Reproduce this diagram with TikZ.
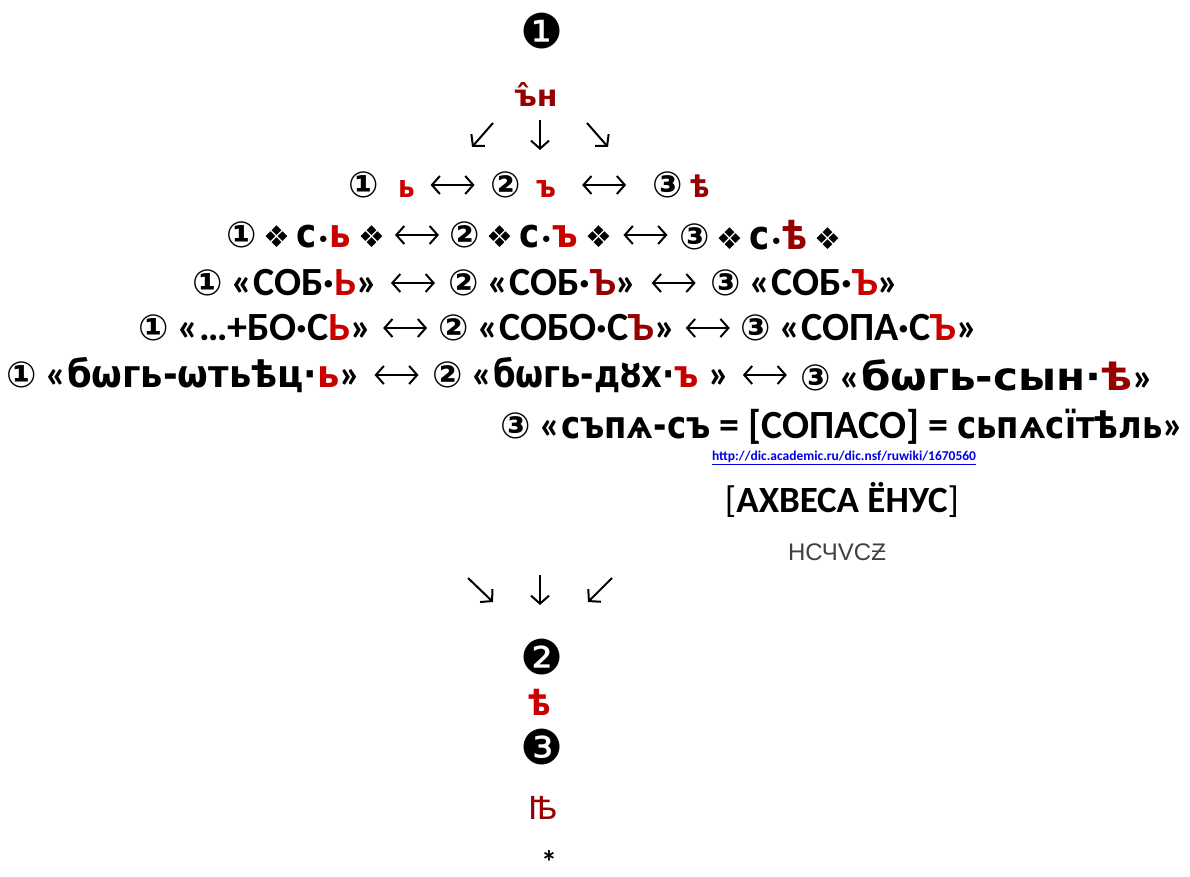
\documentclass[tikz,border=0pt]{standalone}
\usepackage{fontspec}
\usetikzlibrary{arrows.meta,calc}
\setmainfont{Carlito}
\newfontfamily\symf{DejaVu Sans}
\newfontfamily\csl{DejaVu Sans}[FakeStretch=0.85]
\newfontfamily\cslA{DejaVu Sans}[FakeStretch=0.93]
\newfontfamily\cslB{DejaVu Sans}[FakeStretch=1.08]
\newfontfamily\notof{Noto Sans}
\newfontfamily\handf{Liberation Sans}
\definecolor{rA}{RGB}{200,0,0}
\definecolor{rB}{RGB}{150,0,0}
\definecolor{lnk}{RGB}{0,0,230}
\newcommand{\ci}[1]{{\symf\bfseries\fontsize{36}{36}\selectfont #1}}
\newcommand{\redA}[1]{\textcolor{rA}{#1}}
\newcommand{\redB}[1]{\textcolor{rB}{#1}}
\newcommand{\dm}{{\symf\mdseries\fontsize{30}{30}\selectfont ❖}}
\newcommand{\bul}{{\symf\mdseries\fontsize{22}{22}\selectfont •}}
\newcommand{\slv}[1]{{\csl\bfseries\fontsize{38}{38}\selectfont #1}}
\newcommand{\slvr}[1]{{\csl\bfseries\fontsize{40}{40}\selectfont #1}}
\newcommand{\slvA}[1]{{\cslA\bfseries\fontsize{38}{38}\selectfont #1}}
\newcommand{\slvB}[1]{{\cslB\bfseries\fontsize{39}{39}\selectfont #1}}
\begin{document}
\begin{tikzpicture}[x=1pt,y=-1pt,
  every node/.style={inner sep=0pt,outer sep=0pt},
  main/.style={font=\bfseries\fontsize{40}{40}\selectfont,anchor=west},
  tip/.tip={Straight Barb[length=8pt,width=18pt,line width=2pt]},
  lr/.style={tip-tip,line width=2pt},
  da/.style={-tip,line width=2pt},
  big/.style={font=\symf\fontsize{48}{48}\selectfont}
]
\useasboundingbox (0,0) rectangle (1190,877);

% top
\node[big] (n1) at (542,31) {❶};
\node[font=\symf\bfseries\fontsize{30}{30}\selectfont,text=rB] (top) at (536,95) {ъ̂н};
\coordinate (t1s) at (493,123); \coordinate (t1e) at (472,147);
\coordinate (t2s) at (540,120); \coordinate (t2e) at (540,150);
\coordinate (t3s) at (587,123); \coordinate (t3e) at (608,147);
\draw[da] (t1s) -- (t1e);
\draw[da] (t2s) -- (t2e);
\draw[da] (t3s) -- (t3e);

% row 1
\node[main] (a1) at (348,185) {\ci{①}\hspace{20pt}\redA{\csl\bfseries\fontsize{31}{31}\selectfont ь}};
\node[main] (a2) at (490,185) {\ci{②}\hspace{16pt}\redA{\csl\bfseries\fontsize{31}{31}\selectfont ъ}};
\node[main] (a3) at (652,185) {\ci{③}\hspace{8pt}\redB{\csl\bfseries\fontsize{31}{31}\selectfont ѣ}};
\draw[lr] ($(a1.east)!0.5!(a2.west)+(-22,0)$) -- ++(44,0);
\draw[lr] ($(a2.east)!0.5!(a3.west)+(-22,0)$) -- ++(44,0);

% row 2
\node[main] (b1) at (226,235) {\ci{①}\,\dm\,\slvr{с}\bul\redA{\slvr{ь}}\,\dm};
\node[main] (b2) at (449,235) {\ci{②}\,\dm\,\slvr{с}\bul\redA{\slvr{ъ}}\,\dm};
\node[main] (b3) at (679,235) {\ci{③}\,\dm\,\slvr{с}\bul\redB{\slvr{ѣ}}\,\dm};
\draw[lr] ($(b1.east)!0.5!(b2.west)+(-22,0)$) -- ++(44,0);
\draw[lr] ($(b2.east)!0.5!(b3.west)+(-22,0)$) -- ++(44,0);

% row 3
\node[main] (c1) at (192,283) {\ci{①} «СОБ·\redA{Ь}»};
\node[main] (c2) at (448,283) {\ci{②} «СОБ·\redB{Ъ}»};
\node[main] (c3) at (710,283) {\ci{③} «СОБ·\redA{Ъ}»};
\draw[lr] ($(c1.east)!0.5!(c2.west)+(-22,0)$) -- ++(44,0);
\draw[lr] ($(c2.east)!0.5!(c3.west)+(-22,0)$) -- ++(44,0);

% row 4
\node[main] (d1) at (138,328) {\ci{①} «…+БО·С\redA{Ь}»};
\node[main] (d2) at (438,328) {\ci{②} «СОБО·С\redB{Ъ}»};
\node[main] (d3) at (740,328) {\ci{③} «СОПА·С\redA{Ъ}»};
\draw[lr] ($(d1.east)!0.5!(d2.west)+(-22,0)$) -- ++(44,0);
\draw[lr] ($(d2.east)!0.5!(d3.west)+(-22,0)$) -- ++(44,0);

% row 5
\node[main] (e1) at (6,375) {\ci{①} «\slvA{бѡгь-ѡтьѣц·\redA{ь}}»};
\node[main] (e2) at (432,375) {\ci{②} «\slv{бѡгь-дȣх·\redA{ъ}} »};
\node[main] (e3) at (800,375) {\ci{③} «\slvB{бѡгь-сын·\redB{ѣ}}»};
\draw[lr] ($(e1.east)!0.5!(e2.west)+(-22,0)$) -- ++(44,0);
\draw[lr] ($(e2.east)!0.5!(e3.west)+(-22,0)$) -- ++(44,0);

% row 6
\node[main] (f1) at (500,427) {\ci{③} «\slv{съпѧ-съ} = [СОПАСО] = \slv{сьпѧсїтѣль}»};
\node[font=\bfseries\fontsize{13.5}{13.5}\selectfont,text=lnk] (link) at (844,458) {\underline{http://dic.academic.ru/dic.nsf/ruwiki/1670560}};
\node[font=\fontsize{37}{37}\selectfont] (ax) at (842,500) {[\textbf{АХВЕСА ЁНУС}]};
\node[font=\handf\fontsize{24}{24}\selectfont,text=black!75] (hand) at (837,552) {НСЧVСƵ};

% bottom arrows
\coordinate (b1s) at (468,578); \coordinate (b1e) at (493,602);
\coordinate (b2s) at (540,575); \coordinate (b2e) at (540,605);
\coordinate (b3s) at (612,578); \coordinate (b3e) at (588,602);
\draw[da] (b1s) -- (b1e);
\draw[da] (b2s) -- (b2e);
\draw[da] (b3s) -- (b3e);

\node[big] (n2) at (542,657) {❷};
\node[font=\csl\bfseries\fontsize{36}{36}\selectfont,text=rA] (yat1) at (540,702) {ѣ};
\node[big] (n3) at (542,747) {❸};
\node[font=\notof\bfseries\fontsize{36}{36}\selectfont,text=rB] (yat2) at (543,808) {ꙓ};
\node[font=\bfseries\fontsize{32}{32}\selectfont,anchor=north] (star) at (549,851) {*};
\end{tikzpicture}
\end{document}
